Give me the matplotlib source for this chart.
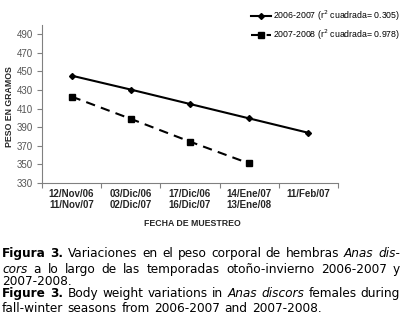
import matplotlib
matplotlib.use("Agg")
import matplotlib.pyplot as plt

# datos
fechas = ["12/Nov/06\n11/Nov/07", "03/Dic/06\n02/Dic/07", "17/Dic/06\n16/Dic/07",
          "14/Ene/07\n13/Ene/08", "11/Feb/07"]
peso_0607 = [445.5, 430.5, 415, 399.5, 384]
peso_0708 = [423, 399, 374.5, 351]
etiquetas = ["2006-2007 (r$^2$ cuadrada= 0.305)", "2007-2008 (r$^2$ cuadrada= 0.978)"]
yticks = [330, 350, 370, 390, 410, 430, 450, 470, 490]

# pie de figura: (segmentos, justificar, baseline en px)
pie = [
    ([("Figura 3.", "b"), ("Variaciones en el peso corporal de hembras", "n"), ("Anas dis-", "i")], True, 257),
    ([("cors", "i"), ("a lo largo de las temporadas otoño-invierno 2006-2007 y", "n")], True, 273),
    ([("2007-2008.", "n")], False, 285),
    ([("Figure 3.", "b"), ("Body weight variations in", "n"), ("Anas discors", "i"), ("females during", "n")], True, 297),
    ([("fall-winter seasons from 2006-2007 and 2007-2008.", "n")], False, 312),
]

W, H = 402, 328
fig = plt.figure(figsize=(W / 100, H / 100), dpi=100)
ax = fig.add_axes([42 / W, 1 - 183 / H, 296 / W, 158 / H])

chart_font = "Liberation Sans"
x = list(range(len(fechas)))
ax.plot(x, peso_0607, color="black", lw=1.5, marker="D", ms=3, label=etiquetas[0])
ax.plot(x[:len(peso_0708)], peso_0708, color="black", lw=1.5, marker="s", ms=4.5,
        dashes=(4.5, 3), label=etiquetas[1])

ax.set_xlim(-0.5, len(fechas) - 0.5)
ax.set_ylim(330, 500)
ax.set_yticks(yticks)
ax.set_yticklabels([str(v) for v in yticks], fontsize=7, color="#555555", family=chart_font)
ax.set_xticks([i - 0.5 for i in range(len(fechas) + 1)])
ax.set_xticklabels([])
ax.set_xticks(x, minor=True)
ax.set_xticklabels(fechas, minor=True, fontsize=7, fontweight="bold", color="#262626",
                   family=chart_font, linespacing=1.15)
ax.tick_params(axis="x", which="minor", length=0, pad=4)
ax.tick_params(axis="both", which="major", length=3.5, width=0.8, color="#808080")
ax.tick_params(axis="y", pad=3)
for s in ["top", "right"]:
    ax.spines[s].set_visible(False)
for s in ["left", "bottom"]:
    ax.spines[s].set_color("#808080")
    ax.spines[s].set_linewidth(0.8)

fig.text(10 / W, 1 - 107 / H, "PESO EN GRAMOS", rotation=90, ha="center", va="center",
         fontsize=6.3, fontweight="bold", color="#262626", family=chart_font)
fig.text(192 / W, 1 - 224 / H, "FECHA DE MUESTREO", ha="center", va="center",
         fontsize=6.3, fontweight="bold", color="#262626", family=chart_font)

fig.legend(loc="upper right", bbox_to_anchor=(400 / W, 1 - 9 / H), frameon=False,
           prop={"family": chart_font, "size": 6.3}, handlelength=2.3, handletextpad=0.25,
           labelspacing=0.45, borderaxespad=0, borderpad=0)

# pie de figura (justificado palabra por palabra)
estilos = {
    "n": dict(family="DejaVu Sans"),
    "b": dict(family="DejaVu Sans", fontweight="bold"),
    "i": dict(family="DejaVu Sans", style="oblique"),
}
renderer = fig.canvas.get_renderer()
size = 8.7
x0, x1 = 2, 400

for segs, justificar, base in pie:
    palabras = []
    for texto, st in segs:
        for p in texto.split(" "):
            palabras.append((p, st))
    anchos = []
    for p, st in palabras:
        t = fig.text(0, 0, p, fontsize=size, **estilos[st])
        anchos.append(t.get_window_extent(renderer).width)
        t.remove()
    if justificar and len(palabras) > 1:
        gap = (x1 - x0 - sum(anchos)) / (len(palabras) - 1)
    else:
        gap = 4.5
    xx = x0
    for (p, st), w in zip(palabras, anchos):
        fig.text(xx / W, 1 - base / H, p, fontsize=size, va="baseline", ha="left",
                 color="black", **estilos[st])
        xx += w + gap

fig.savefig("out.png", dpi=100)
